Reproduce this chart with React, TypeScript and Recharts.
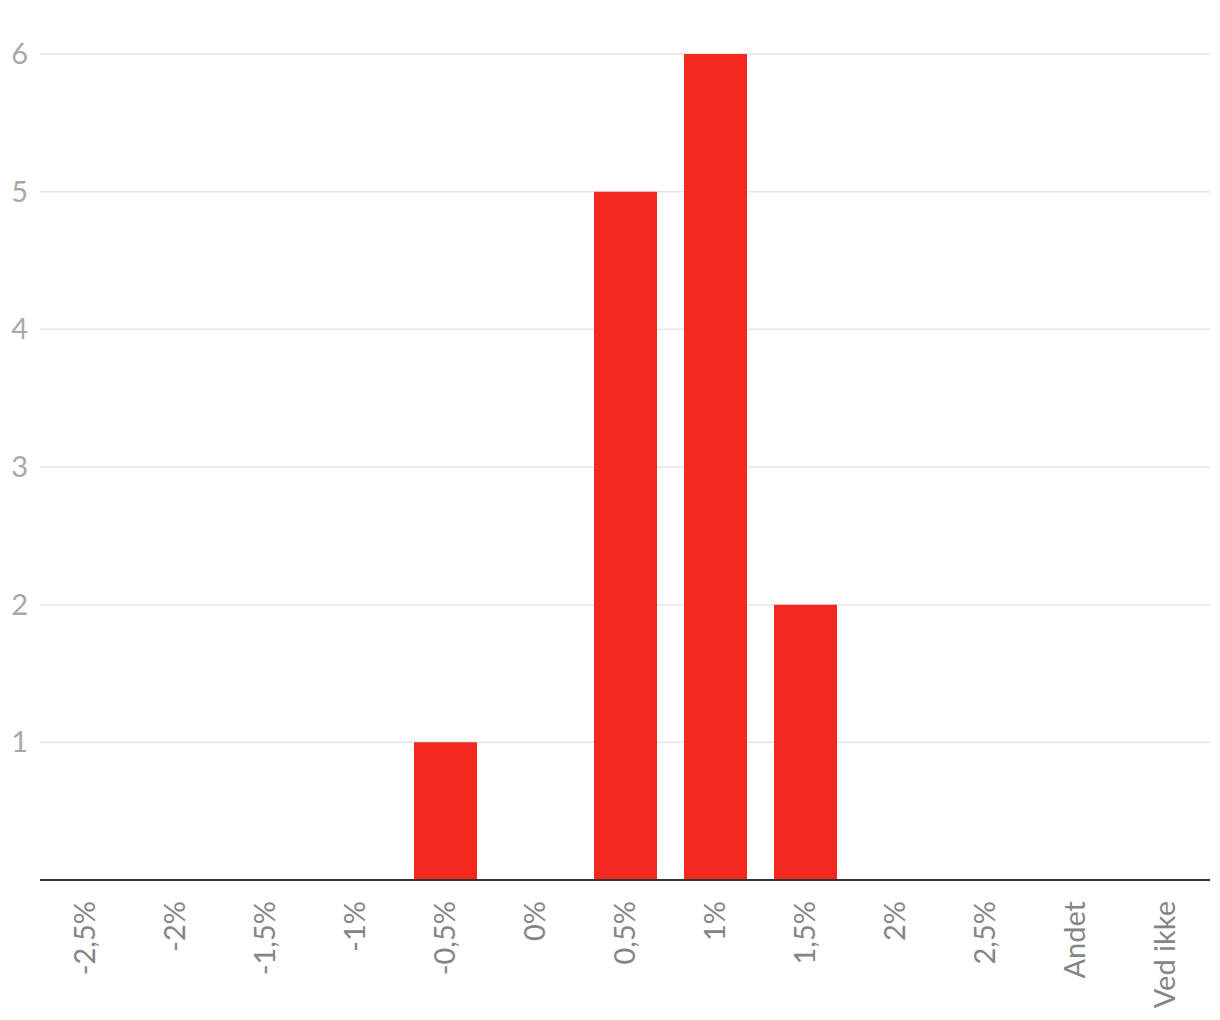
import { Bar, BarChart, CartesianGrid, XAxis, YAxis } from "recharts";

const categories = [
  "-2,5%",
  "-2%",
  "-1,5%",
  "-1%",
  "-0,5%",
  "0%",
  "0,5%",
  "1%",
  "1,5%",
  "2%",
  "2,5%",
  "Andet",
  "Ved ikke",
];
const counts = [0, 0, 0, 0, 1, 0, 5, 6, 2, 0, 0, 0, 0];
const yTicks = [1, 2, 3, 4, 5, 6];

const data = categories.map((label, i) => ({ label, value: counts[i] }));

const FONT = "Lato, 'Open Sans', sans-serif";

function XTick({ x, y, payload }: any) {
  return (
    <g transform={`translate(${x},${y + 13})`}>
      <text
        transform="rotate(-90)"
        textAnchor="end"
        dy="0.35em"
        fontSize={29}
        fontFamily={FONT}
        fill="#858585"
      >
        {payload.value}
      </text>
    </g>
  );
}

function YTick({ y, payload }: any) {
  return (
    <text
      x={28}
      y={y}
      dy="0.35em"
      textAnchor="end"
      fontSize={29}
      fontFamily={FONT}
      fill="#a8a8a8"
    >
      {payload.value}
    </text>
  );
}

export default function App() {
  return (
    <div
      style={{
        position: "absolute",
        left: 0,
        top: 0,
        width: 1220,
        height: 1020,
        background: "#fff",
      }}
    >
      <BarChart
        width={1220}
        height={1020}
        data={data}
        margin={{ top: 54, right: 10, bottom: 0, left: 0 }}
      >
        <CartesianGrid vertical={false} stroke="#e4e4e4" strokeWidth={1.5} />
        <XAxis
          dataKey="label"
          interval={0}
          height={140}
          tickLine={false}
          axisLine={{ stroke: "#333", strokeWidth: 2 }}
          tick={<XTick />}
        />
        <YAxis
          width={40}
          domain={[0, 6]}
          ticks={yTicks}
          axisLine={false}
          tickLine={false}
          tick={<YTick />}
        />
        <Bar
          dataKey="value"
          fill="#f3291f"
          barSize={63}
          isAnimationActive={false}
        />
      </BarChart>
    </div>
  );
}
